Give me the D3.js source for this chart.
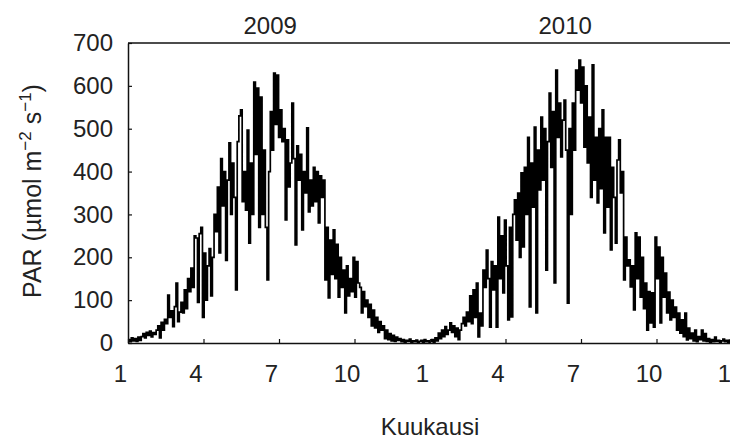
<!DOCTYPE html>
<html>
<head>
<meta charset="utf-8">
<script src="https://cdn.jsdelivr.net/npm/d3@7"></script>
<style>
  html, body { margin: 0; padding: 0; background: #fff; }
  svg { display: block; }
  text { font-family: "Liberation Sans", Arial, sans-serif; fill: #222; }
</style>
</head>
<body>
<svg id="chart" width="730" height="441"></svg>
<script>
// Daily PAR, sampled every second day from 1 January (µmol m-2 s-1)
const sampleStep = 2;
const daysPerYear = 365;
const years = ["2009", "2010"];

const par2009 = [
  8, 3, 12, 5, 10, 4, 14, 6,
  15, 22, 12, 25, 18, 28, 14, 24, 20, 30,
  40, 12, 48, 30, 55,
  45, 112, 60, 75, 38, 85, 140, 50, 72,
  95, 70, 124, 80,
  150, 120, 175, 130,
  250, 245, 95, 255,
  270, 60, 210, 100,
  180, 220, 110, 200,
  300, 260, 364, 210,
  430, 320, 400, 193,
  380, 467, 300, 420,
  340, 124, 470, 530,
  544, 330, 400, 310,
  497, 233, 420, 300,
  609, 440, 595, 270,
  574, 300, 450, 270,
  147, 400, 540, 450,
  630, 510, 625, 480,
  544, 470, 500, 287,
  474, 364, 420, 560,
  430, 229, 460, 380,
  440, 264, 400, 350,
  502, 306, 380, 320,
  410, 330, 400, 280,
  390, 340, 380, 147,
  270, 105, 240, 160,
  264, 150, 230, 107,
  200, 130, 170, 70,
  180, 110, 150, 120,
  200, 107, 190, 140,
  130, 70, 120, 85,
  100, 60, 90, 40,
  77, 35, 60, 25,
  50, 30, 40, 10,
  30, 8, 22, 5,
  18, 4, 14, 6,
  10, 3, 8, 2, 6, 4, 9, 1, 5, 3, 7, 2, 4, 6, 2, 8, 3, 5, 2
];

const par2010 = [
  4, 8, 2, 12, 5, 23,
  10, 30, 15, 38, 20, 30,
  47, 25, 40, 15,
  35, 8, 30, 45,
  60, 40, 72, 50,
  110, 45, 124, 60,
  140, 14, 70, 40,
  170, 130, 217, 150,
  37, 190, 124, 180,
  37, 294, 150, 250,
  117, 287, 180, 54,
  270, 61, 300, 334,
  240, 350, 200, 397,
  224, 410, 300, 480,
  84, 420, 317, 504,
  70, 450, 357, 527,
  380, 500, 170, 470,
  583, 410, 540, 140,
  637, 480, 560, 434,
  520, 567, 450, 93,
  500, 300, 560, 450,
  637, 590, 660, 560,
  644, 457, 600, 420,
  527, 340, 649, 380,
  480, 327, 500, 360,
  544, 257, 480, 317,
  480, 217, 410, 340,
  233, 427, 474, 350,
  400, 147, 247, 180,
  194, 131, 180, 77,
  257, 150, 247, 107,
  200, 80, 140, 30,
  120, 47, 117, 37,
  247, 150, 224, 47,
  200, 107, 163, 70,
  119, 54, 100, 60,
  84, 30, 70, 23,
  54, 15, 70, 7,
  35, 10, 23, 5,
  30, 3, 15, 8,
  30, 5, 22, 4,
  10, 2, 8, 3,
  14, 4, 6, 2,
  5, 9, 3, 6, 2, 7, 4
];

// Month ticks (running month number) and their printed labels
const monthTicks = [1, 4, 7, 10, 13, 16, 19, 22, 25];
const monthLabels = ["1", "4", "7", "10", "1", "4", "7", "10", "1"];
const yTicks = [0, 100, 200, 300, 400, 500, 600, 700];

const svg = d3.select("#chart");
const margin = { left: 128, top: 43, bottom: 343, right: 732 };

// x runs in months: 1 = start of January 2009, 25 = start of January 2011
const x = d3.scaleLinear().domain([1, 25]).range([margin.left, margin.right]);
const y = d3.scaleLinear().domain([0, 700]).range([margin.bottom, margin.top]);

const dayToMonth = d => 1 + d * 12 / daysPerYear;

const series = [];
par2009.forEach((v, i) => series.push({ day: i * sampleStep, value: v }));
par2010.forEach((v, i) => series.push({ day: daysPerYear + i * sampleStep, value: v }));

// data line, drawn as steps between daily samples
svg.append("path")
  .datum(series)
  .attr("fill", "none")
  .attr("stroke", "#000")
  .attr("stroke-width", 1.7)
  .attr("stroke-linejoin", "miter")
  .attr("d", d3.line()
    .curve(d3.curveStepAfter)
    .x(d => x(dayToMonth(d.day)))
    .y(d => y(d.value)));

// top frame line
svg.append("line")
  .attr("x1", margin.left).attr("x2", margin.right)
  .attr("y1", margin.top).attr("y2", margin.top)
  .attr("stroke", "#111").attr("stroke-width", 1.5);

// x axis (ticks pointing inward)
const xAxis = svg.append("g")
  .attr("transform", `translate(0,${margin.bottom})`)
  .call(d3.axisBottom(x)
    .tickValues(monthTicks)
    .tickFormat((d, i) => monthLabels[i])
    .tickSize(-4)
    .tickSizeOuter(0)
    .tickPadding(22));
xAxis.select(".domain").attr("stroke", "#111").attr("stroke-width", 1.5);
xAxis.selectAll(".tick line").attr("stroke", "#111").attr("stroke-width", 1.2);
xAxis.selectAll(".tick text")
  .attr("x", -8)
  .style("font-size", "24px")
  .attr("fill", "#222");

// y axis (ticks pointing inward)
const yAxis = svg.append("g")
  .attr("transform", `translate(${margin.left},0)`)
  .call(d3.axisLeft(y)
    .tickValues(yTicks)
    .tickSize(-4)
    .tickSizeOuter(0)
    .tickPadding(15));
yAxis.select(".domain").attr("stroke", "#111").attr("stroke-width", 1.5);
yAxis.selectAll(".tick line").attr("stroke", "#111").attr("stroke-width", 1.2);
yAxis.selectAll(".tick text")
  .style("font-size", "24px")
  .attr("fill", "#222");

// year labels above the frame
const yearPos = [7 - 0.35, 19 - 0.63];
svg.selectAll(".year")
  .data(years)
  .join("text")
  .attr("class", "year")
  .attr("x", (d, i) => x(yearPos[i]))
  .attr("y", 34)
  .attr("text-anchor", "middle")
  .style("font-size", "24px")
  .text(d => d);

// x axis title
svg.append("text")
  .attr("x", 430)
  .attr("y", 435)
  .attr("text-anchor", "middle")
  .style("font-size", "24px")
  .text("Kuukausi");

// y axis title with superscript exponents
const yTitle = svg.append("text")
  .attr("transform", "translate(41,191) rotate(-90)")
  .attr("text-anchor", "middle")
  .style("font-size", "25px");
yTitle.append("tspan").text("PAR (µmol m");
yTitle.append("tspan").attr("dy", -10).style("font-size", "17px").text("−2");
yTitle.append("tspan").attr("dy", 10).text(" s");
yTitle.append("tspan").attr("dy", -10).style("font-size", "17px").text("−1");
yTitle.append("tspan").attr("dy", 10).text(")");
</script>
</body>
</html>
